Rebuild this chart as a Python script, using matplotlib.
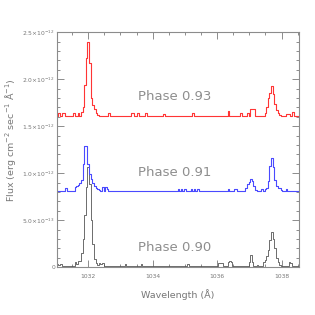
import numpy as np
import matplotlib
matplotlib.use("Agg")
import matplotlib.pyplot as plt
from matplotlib.ticker import MultipleLocator

# wavelength grid (Angstrom), 0.05 A bins from 1031.00 to 1038.50
wave = np.round(np.arange(1031.0, 1038.5001, 0.05), 2)

# flux in units of 1e-12 erg cm^-2 s^-1 A^-1  (151 values each)
flux_093 = [
    1.61, 1.61, 1.64, 1.61, 1.64, 1.64, 1.61, 1.61, 1.61, 1.61,   # 1031.00
    1.61, 1.64, 1.61, 1.61, 1.64, 1.61, 1.65, 1.70, 1.94, 2.22,   # 1031.50
    2.40, 2.17, 1.80, 1.72, 1.68, 1.64, 1.62, 1.61, 1.61, 1.61,   # 1032.00
    1.61, 1.61, 1.61, 1.64, 1.61, 1.61, 1.61, 1.61, 1.61, 1.61,   # 1032.50
    1.61, 1.61, 1.61, 1.61, 1.61, 1.61, 1.61, 1.64, 1.64, 1.61,   # 1033.00
    1.61, 1.64, 1.61, 1.61, 1.61, 1.61, 1.64, 1.61, 1.61, 1.61,   # 1033.50
    1.61, 1.61, 1.61, 1.61, 1.61, 1.61, 1.61, 1.63, 1.61, 1.61,   # 1034.00
    1.61, 1.61, 1.61, 1.61, 1.61, 1.61, 1.61, 1.61, 1.61, 1.61,   # 1034.50
    1.61, 1.61, 1.61, 1.61, 1.61, 1.64, 1.61, 1.61, 1.61, 1.61,   # 1035.00
    1.61, 1.61, 1.61, 1.61, 1.61, 1.61, 1.61, 1.61, 1.61, 1.61,   # 1035.50
    1.61, 1.61, 1.61, 1.61, 1.61, 1.61, 1.61, 1.66, 1.61, 1.61,   # 1036.00
    1.61, 1.61, 1.61, 1.61, 1.61, 1.64, 1.61, 1.61, 1.61, 1.64,   # 1036.50
    1.61, 1.68, 1.68, 1.68, 1.61, 1.61, 1.61, 1.61, 1.61, 1.61,   # 1037.00
    1.64, 1.70, 1.80, 1.85, 1.93, 1.84, 1.74, 1.67, 1.64, 1.62,   # 1037.50
    1.61, 1.61, 1.61, 1.63, 1.63, 1.63, 1.61, 1.65, 1.61, 1.61,   # 1038.00
    1.61,                                                         # 1038.50
]

flux_091 = [
    0.81, 0.81, 0.81, 0.81, 0.81, 0.81, 0.84, 0.81, 0.81, 0.81,   # 1031.00
    0.81, 0.81, 0.85, 0.86, 0.87, 0.89, 0.93, 1.10, 1.29, 1.29,   # 1031.50
    1.10, 0.99, 0.94, 0.90, 0.86, 0.84, 0.83, 0.82, 0.81, 0.85,   # 1032.00
    0.81, 0.85, 0.83, 0.81, 0.81, 0.81, 0.81, 0.81, 0.81, 0.81,   # 1032.50
    0.81, 0.81, 0.81, 0.81, 0.81, 0.81, 0.81, 0.81, 0.81, 0.81,   # 1033.00
    0.81, 0.81, 0.81, 0.81, 0.81, 0.81, 0.81, 0.81, 0.81, 0.81,   # 1033.50
    0.81, 0.81, 0.81, 0.81, 0.81, 0.81, 0.81, 0.81, 0.81, 0.81,   # 1034.00
    0.81, 0.81, 0.81, 0.81, 0.81, 0.81, 0.83, 0.81, 0.83, 0.81,   # 1034.50
    0.83, 0.81, 0.81, 0.81, 0.83, 0.81, 0.83, 0.81, 0.83, 0.81,   # 1035.00
    0.81, 0.81, 0.81, 0.81, 0.81, 0.81, 0.81, 0.81, 0.81, 0.81,   # 1035.50
    0.81, 0.81, 0.81, 0.81, 0.81, 0.81, 0.81, 0.83, 0.81, 0.81,   # 1036.00
    0.81, 0.83, 0.83, 0.81, 0.81, 0.81, 0.81, 0.81, 0.84, 0.88,   # 1036.50
    0.91, 0.94, 0.92, 0.86, 0.82, 0.81, 0.81, 0.81, 0.83, 0.81,   # 1037.00
    0.83, 0.84, 0.92, 1.08, 1.16, 1.07, 0.93, 0.86, 0.84, 0.84,   # 1037.50
    0.82, 0.81, 0.81, 0.83, 0.81, 0.81, 0.81, 0.81, 0.81, 0.81,   # 1038.00
    0.81,                                                         # 1038.50
]

flux_090 = [
    0.01, 0.03, 0.02, 0.03, 0.01, 0.01, 0.01, 0.01, 0.01, 0.01,   # 1031.00
    0.01, 0.01, 0.05, 0.03, 0.06, 0.07, 0.15, 0.30, 0.55, 0.85,   # 1031.50
    1.07, 0.88, 0.50, 0.25, 0.09, 0.04, 0.02, 0.04, 0.03, 0.04,   # 1032.00
    0.01, 0.01, 0.01, 0.01, 0.01, 0.01, 0.01, 0.01, 0.01, 0.01,   # 1032.50
    0.01, 0.01, 0.01, 0.03, 0.01, 0.01, 0.01, 0.01, 0.01, 0.01,   # 1033.00
    0.01, 0.01, 0.01, 0.03, 0.01, 0.01, 0.01, 0.01, 0.01, 0.01,   # 1033.50
    0.01, 0.01, 0.01, 0.01, 0.01, 0.01, 0.01, 0.01, 0.01, 0.01,   # 1034.00
    0.01, 0.01, 0.01, 0.01, 0.01, 0.01, 0.01, 0.01, 0.01, 0.01,   # 1034.50
    0.01, 0.01, 0.03, 0.01, 0.01, 0.01, 0.01, 0.01, 0.01, 0.01,   # 1035.00
    0.01, 0.01, 0.01, 0.01, 0.01, 0.01, 0.01, 0.01, 0.01, 0.01,   # 1035.50
    0.01, 0.04, 0.04, 0.04, 0.01, 0.01, 0.01, 0.05, 0.07, 0.05,   # 1036.00
    0.01, 0.01, 0.01, 0.01, 0.01, 0.01, 0.01, 0.01, 0.01, 0.01,   # 1036.50
    0.05, 0.13, 0.05, 0.01, 0.01, 0.02, 0.01, 0.01, 0.01, 0.05,   # 1037.00
    0.08, 0.12, 0.18, 0.29, 0.375, 0.30, 0.20, 0.10, 0.05, 0.02,  # 1037.50
    0.01, 0.01, 0.01, 0.01, 0.01, 0.05, 0.04, 0.01, 0.01, 0.01,   # 1038.00
    0.01,                                                         # 1038.50
]

phase_labels = ["Phase 0.93", "Phase 0.91", "Phase 0.90"]
label_y = [1.81, 1.01, 0.21]

ytick_vals = [0.0, 0.5, 1.0, 1.5, 2.0, 2.5]
ytick_labels = ["0", r"5.0$\times$10$^{-13}$", r"1.0$\times$10$^{-12}$",
                r"1.5$\times$10$^{-12}$", r"2.0$\times$10$^{-12}$",
                r"2.5$\times$10$^{-12}$"]
xtick_vals = [1032, 1034, 1036, 1038]

axis_gray = "#8c8c8c"
text_gray = "#8e8e8e"

fig = plt.figure(figsize=(3.15, 3.15), dpi=100)
ax = fig.add_axes([0.181, 0.152, 0.768, 0.746])

ax.plot(wave, flux_090, drawstyle="steps-mid", color="#555555", lw=0.6)
ax.plot(wave, flux_091, drawstyle="steps-mid", color="#4a4aff", lw=0.8)
ax.plot(wave, flux_093, drawstyle="steps-mid", color="#ff3535", lw=0.8)

for lab, yy in zip(phase_labels, label_y):
    ax.text(1033.54, yy, lab, color=text_gray, fontsize=9.5,
            va="center", ha="left")

ax.set_xlim(1031.03, 1038.54)
ax.set_ylim(0, 2.5)

ax.set_xticks(xtick_vals)
ax.set_xticklabels([str(v) for v in xtick_vals])
ax.set_yticks(ytick_vals)
ax.set_yticklabels(ytick_labels)
ax.xaxis.set_minor_locator(MultipleLocator(0.5))
ax.yaxis.set_minor_locator(MultipleLocator(0.1))

ax.tick_params(which="both", direction="in", top=True, right=True,
               color=axis_gray, labelcolor="#777777", labelsize=4.3, width=0.7)
ax.tick_params(which="major", length=5)
ax.tick_params(which="minor", length=2.5)
ax.tick_params(axis="x", pad=5)
ax.tick_params(axis="y", pad=1.5)
for sp in ax.spines.values():
    sp.set_color(axis_gray)
    sp.set_linewidth(0.8)

ax.set_xlabel("Wavelength (Å)", color="#777777", fontsize=6.8)
ax.xaxis.set_label_coords(0.5, -0.095)
ax.set_ylabel(r"Flux (erg cm$^{-2}$ sec$^{-1}$ Å$^{-1}$)", color="#777777",
              fontsize=6.8)
ax.yaxis.set_label_coords(-0.16, 0.54)

fig.savefig("out.png", dpi=100)
